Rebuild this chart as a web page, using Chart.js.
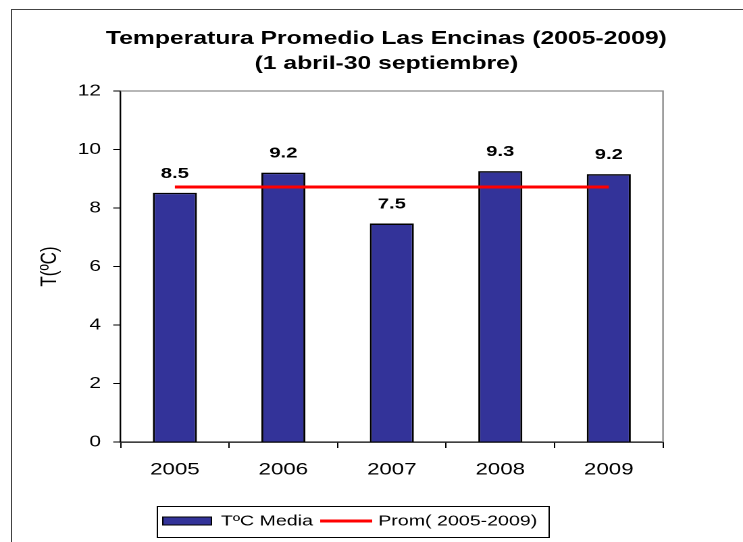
<!DOCTYPE html>
<html>
<head>
<meta charset="utf-8">
<script src="https://cdn.jsdelivr.net/npm/chart.js@4/dist/chart.umd.min.js"></script>
<style>
    html, body { margin: 0; padding: 0; background: #fff; overflow: hidden; }
    #marco {
        position: absolute; left: 0; top: 0;
        width: 550px; height: 542px;
        transform: scaleX(1.3509);
        transform-origin: 0 0;
    }
</style>
</head>
<body>
<div id="marco"><canvas id="tempChart"></canvas></div>
<script>
// datos
const anos = ['2005', '2006', '2007', '2008', '2009'];
const tempMedia = [8.52, 9.21, 7.47, 9.26, 9.16];
const promedio = [8.72, 8.72, 8.72, 8.72, 8.72];
const ejeYMin = 0;
const ejeYMax = 12;
const ejeYPaso = 2;

const tituloLineas = ['Temperatura Promedio Las Encinas (2005-2009)', '(1 abril-30 septiembre)'];
const fuente = "'Liberation Sans', Arial, sans-serif";

Chart.defaults.font.family = fuente;
Chart.defaults.color = '#000';

// marco exterior, titulo, borde gris del area, etiquetas y leyenda
const extras = {
    id: 'extras',
    beforeDraw(chart) {
        const c = chart.ctx;
        c.save();
        c.strokeStyle = '#444';
        c.lineWidth = 1;
        c.beginPath();
        c.moveTo(8.5, 600);
        c.lineTo(8.5, 9.5);
        c.lineTo(600, 9.5);
        c.stroke();
        c.restore();
    },
    afterDatasetsDraw(chart) {
        const c = chart.ctx;
        const area = chart.chartArea;
        c.save();
        c.strokeStyle = '#8c8c8c';
        c.lineWidth = 1.2;
        c.beginPath();
        c.moveTo(area.left, area.top);
        c.lineTo(area.right, area.top);
        c.lineTo(area.right, area.bottom);
        c.stroke();

        // etiquetas de valor sobre las barras
        const meta = chart.getDatasetMeta(1);
        c.fillStyle = '#000';
        c.font = 'bold 15px ' + fuente;
        c.textAlign = 'center';
        c.textBaseline = 'alphabetic';
        meta.data.forEach(function(bar, i) {
            c.fillText(tempMedia[i].toFixed(1), bar.x, bar.y - 15);
        });
        c.restore();
    },
    afterDraw(chart) {
        const c = chart.ctx;
        c.save();
        c.fillStyle = '#000';
        c.textAlign = 'center';
        c.font = 'bold 18.3px ' + fuente;
        c.fillText(tituloLineas[0], 286, 44);
        c.fillText(tituloLineas[1], 286, 69);

        // leyenda
        const barras = chart.data.datasets[1];
        const linea = chart.data.datasets[0];
        c.strokeStyle = '#000';
        c.lineWidth = 1;
        c.strokeRect(116.5, 506.5, 290, 31);
        c.fillStyle = barras.backgroundColor;
        c.fillRect(120.5, 517, 36, 8);
        c.strokeRect(120.5, 517, 36, 8);
        c.strokeStyle = linea.borderColor;
        c.lineWidth = 3;
        c.beginPath();
        c.moveTo(237, 521);
        c.lineTo(275.5, 521);
        c.stroke();
        c.fillStyle = '#000';
        c.font = '14.5px ' + fuente;
        c.textAlign = 'left';
        c.textBaseline = 'middle';
        c.fillText(barras.label, 163.5, 521.5);
        c.fillText(linea.label, 280, 521.5);
        c.restore();
    }
};

const ctx = document.getElementById('tempChart').getContext('2d');
const tempChart = new Chart(ctx, {
    type: 'bar',
    data: {
        labels: anos,
        datasets: [{
            type: 'line',
            label: 'Prom( 2005-2009)',
            data: promedio,
            borderColor: '#ff0000',
            borderWidth: 3,
            pointRadius: 0,
            fill: false,
            tension: 0,
            order: 0
        }, {
            type: 'bar',
            label: 'TºC Media',
            data: tempMedia,
            backgroundColor: '#333399',
            borderColor: '#000',
            borderWidth: 1.5,
            barPercentage: 0.406,
            categoryPercentage: 1,
            order: 1
        }]
    },
    options: {
        responsive: true,
        maintainAspectRatio: false,
        animation: false,
        devicePixelRatio: 2,
        layout: {
            padding: { left: 0, right: 59.2, top: 91, bottom: 60 }
        },
        plugins: {
            legend: { display: false },
            title: { display: false },
            tooltip: { enabled: false }
        },
        scales: {
            x: {
                grid: {
                    offset: true,
                    drawOnChartArea: false,
                    tickLength: 6,
                    color: '#000'
                },
                border: { color: '#000', width: 1.2 },
                ticks: {
                    font: { size: 16.5 },
                    padding: 12
                },
                afterFit: function(scale) {
                    scale.height = 40;
                }
            },
            y: {
                min: ejeYMin,
                max: ejeYMax,
                grid: {
                    drawOnChartArea: false,
                    tickLength: 5.5,
                    color: '#000'
                },
                border: { color: '#000', width: 1.2 },
                ticks: {
                    stepSize: ejeYPaso,
                    font: { size: 15.5 },
                    padding: 9
                },
                title: {
                    display: true,
                    text: 'T(ºC)',
                    font: { size: 17 },
                    padding: { top: 26.5, bottom: 0 }
                },
                afterFit: function(scale) {
                    scale.width = 89.3;
                }
            }
        }
    },
    plugins: [extras]
});
</script>
</body>
</html>
